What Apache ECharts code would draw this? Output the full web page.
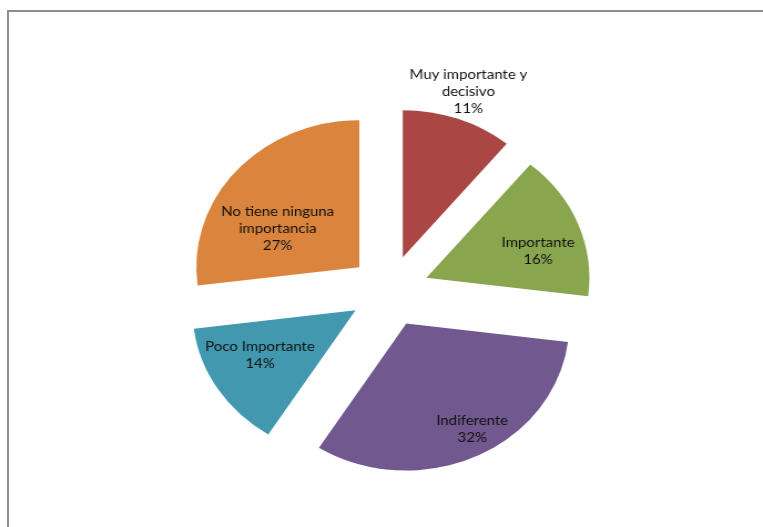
<!DOCTYPE html>
<html>
<head>
<meta charset="utf-8">
<script src="https://cdn.jsdelivr.net/npm/echarts@6/dist/echarts.min.js"></script>
<style>
  html, body { margin: 0; padding: 0; background: #fff; overflow: hidden; }
  body { width: 763px; height: 527px; position: relative; }
  .frame { position: absolute; left: 7px; top: 10px; right: -10px; bottom: -10px;
           border-top: 2px solid #8e8e8e; border-left: 2px solid #8e8e8e; }
  /* the original picture is stretched sideways, so the pie is squeezed back into an ellipse */
  #chart { position: absolute; left: 0; top: 0; width: 688px; height: 527px;
           transform: scaleX(1.109); transform-origin: 0 0; }
</style>
</head>
<body>
<div class="frame"></div>
<div id="chart"></div>
<script>
// datos de la encuesta
var categories = ['Muy importante y\ndecisivo', 'Importante', 'Indiferente', 'Poco Importante', 'No tiene ninguna\nimportancia'];
var values = [11, 16, 32, 14, 27];
var colors = ['#aa4643', '#89a54e', '#71588f', '#4198af', '#db843d'];

var center = [351, 291];
var radius = 147;
var offset = 36;
// small shifts so the labels sit where Excel's "best fit" put them
var labelShift = [[-2, 4], [-3, 14], [12, 5], [8, -15], [10, 35]];

function items(withColor) {
  return categories.map(function (name, i) {
    return {
      name: name,
      value: values[i],
      selected: true,
      itemStyle: { color: withColor ? colors[i] : 'rgba(0,0,0,0)' }
    };
  });
}

var labelStyle = {
  formatter: '{b}\n{d}%',
  color: '#111',
  fontFamily: 'Lato',
  fontSize: 13.5,
  lineHeight: 17,
  align: 'center'
};

function shift(params) {
  var s = labelShift[params.dataIndex];
  return { dx: s[0], dy: s[1] };
}

var base = {
  type: 'pie',
  center: center,
  startAngle: 90,
  clockwise: true,
  selectedMode: 'multiple',
  selectedOffset: offset,
  percentPrecision: 0,
  animation: false,
  emphasis: { disabled: true },
  select: { itemStyle: { borderWidth: 0 } },
  labelLine: { show: false }
};

var chart = echarts.init(document.getElementById('chart'), null, { renderer: 'canvas' });
chart.setOption({
  backgroundColor: 'transparent',
  series: [
    // las porciones
    Object.assign({}, base, {
      radius: [0, radius],
      label: { show: false },
      data: items(true)
    }),
    // etiquetas dentro de las porciones
    Object.assign({}, base, {
      radius: [70, radius],
      silent: true,
      z: 3,
      label: Object.assign({ show: true, position: 'inside' }, labelStyle),
      labelLayout: shift,
      data: items(false).map(function (d, i) {
        if (i === 0) d.label = { show: false };
        return d;
      })
    }),
    // etiqueta de la porcion pequena, por fuera
    Object.assign({}, base, {
      radius: [160, 195],
      silent: true,
      z: 3,
      label: Object.assign({ show: false, position: 'inside' }, labelStyle),
      labelLayout: shift,
      data: items(false).map(function (d, i) {
        if (i === 0) d.label = { show: true };
        return d;
      })
    })
  ]
});
</script>
</body>
</html>
